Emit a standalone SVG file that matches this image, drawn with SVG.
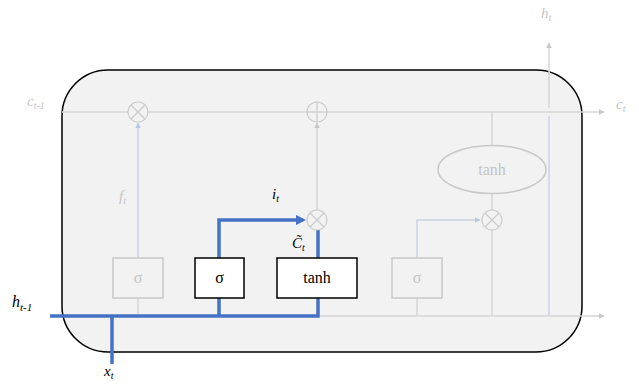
<svg xmlns="http://www.w3.org/2000/svg" width="639" height="384" viewBox="0 0 639 384">
  <style>
    text { font-family: "Liberation Serif", "Times New Roman", serif; }
    .lbl { font-style: italic; }
    .dim { fill: #c4c4c4; }
    .ink { fill: #000000; }
    .gate-dim { fill: none; stroke: #c8c8c8; stroke-width: 1.5; }
    .gate-on { fill: #ffffff; stroke: #000000; stroke-width: 1.5; }
    .gtxt { font-size: 16px; text-anchor: middle; }
    .grey { fill: none; stroke: #d6d6d6; stroke-width: 1.5; }
    .pale { fill: none; stroke: #c7d3e3; stroke-width: 1.5; }
    .blue { fill: none; stroke: #4472c4; stroke-width: 3.5; }
    .op { fill: #f2f2f2; stroke: #cccccc; stroke-width: 1.2; }
    .opx { stroke: #cccccc; stroke-width: 1.2; }
  </style>
  <defs>
    <marker id="ahGrey" viewBox="0 0 10 10" refX="9" refY="5" markerWidth="4" markerHeight="4" orient="auto">
      <path d="M0,0 L10,5 L0,10 z" fill="#c8c8c8"/>
    </marker>
    <marker id="ahPale" viewBox="0 0 10 10" refX="9" refY="5" markerWidth="4" markerHeight="4" orient="auto">
      <path d="M0,0 L10,5 L0,10 z" fill="#b8c8df"/>
    </marker>
    <marker id="ahBlue" viewBox="0 0 10 10" refX="7" refY="5" markerWidth="3" markerHeight="3" orient="auto">
      <path d="M0,0 L10,5 L0,10 z" fill="#4472c4"/>
    </marker>
  </defs>

  <!-- cell body -->
  <g id="cell">
    <rect x="62" y="70" width="520" height="282" rx="46" ry="46" fill="#f2f2f2" stroke="#000000" stroke-width="1.5"/>
  </g>

  <!-- connectors -->
  <g id="connectors">
    <!-- cell state c_{t-1} -> c_t -->
    <line class="grey" x1="62" y1="112" x2="604" y2="112" marker-end="url(#ahGrey)"/>
    <!-- forget gate output to multiply -->
    <line class="pale" x1="138" y1="258" x2="138" y2="123" marker-end="url(#ahPale)"/>
    <!-- candidate product to add -->
    <line class="grey" x1="317" y1="210" x2="317" y2="123" marker-end="url(#ahGrey)"/>
    <!-- hidden/input bus (dim part) -->
    <line class="grey" x1="318" y1="316" x2="604" y2="316" marker-end="url(#ahGrey)"/>
    <line class="grey" x1="138" y1="298" x2="138" y2="316"/>
    <line class="grey" x1="417" y1="298" x2="417" y2="316"/>
    <!-- output gate to multiply -->
    <polyline class="pale" points="417,258 417,220 480,220" marker-end="url(#ahPale)"/>
    <!-- cell state to tanh -->
    <line class="grey" x1="492" y1="112" x2="492" y2="146"/>
    <line class="grey" x1="492" y1="193" x2="492" y2="210"/>
    <!-- output product down to bus -->
    <line class="grey" x1="492" y1="230" x2="492" y2="316"/>
    <!-- h_t output -->
    <line class="pale" x1="549" y1="316" x2="549" y2="116"/>
    <line class="grey" x1="549" y1="108" x2="549" y2="43" marker-end="url(#ahGrey)"/>
    <!-- active path -->
    <polyline class="blue" points="50,316 318,316 318,298"/>
    <line class="blue" x1="112" y1="316" x2="112" y2="364"/>
    <line class="blue" x1="219" y1="316" x2="219" y2="298"/>
    <polyline class="blue" points="219,258 219,220 303,220" marker-end="url(#ahBlue)"/>
    <line class="blue" x1="318" y1="258" x2="318" y2="230"/>
  </g>

  <!-- pointwise operators -->
  <g id="mul-forget">
    <circle class="op" cx="138" cy="112" r="10"/>
    <line class="opx" x1="131" y1="105" x2="145" y2="119"/>
    <line class="opx" x1="145" y1="105" x2="131" y2="119"/>
  </g>
  <g id="add-cell">
    <circle class="op" cx="317" cy="112" r="10"/>
    <line class="opx" x1="307" y1="112" x2="327" y2="112"/>
    <line class="opx" x1="317" y1="102" x2="317" y2="122"/>
  </g>
  <g id="mul-input">
    <circle class="op" cx="317" cy="220" r="10"/>
    <line class="opx" x1="310" y1="213" x2="324" y2="227"/>
    <line class="opx" x1="324" y1="213" x2="310" y2="227"/>
  </g>
  <g id="mul-output">
    <circle class="op" cx="492" cy="220" r="10"/>
    <line class="opx" x1="485" y1="213" x2="499" y2="227"/>
    <line class="opx" x1="499" y1="213" x2="485" y2="227"/>
  </g>

  <!-- gates -->
  <g id="forget-gate">
    <rect class="gate-dim" x="113" y="258" width="50" height="40"/>
    <text class="gtxt dim" x="138" y="283">σ</text>
  </g>
  <g id="input-gate">
    <rect class="gate-on" x="195" y="258" width="49" height="40"/>
    <text class="gtxt ink" x="219.5" y="283">σ</text>
  </g>
  <g id="candidate">
    <rect class="gate-on" x="277" y="258" width="80" height="40"/>
    <text class="gtxt ink" x="317" y="283">tanh</text>
  </g>
  <g id="output-gate">
    <rect class="gate-dim" x="392" y="258" width="50" height="40"/>
    <text class="gtxt dim" x="417" y="283">σ</text>
  </g>
  <g id="cell-tanh">
    <ellipse cx="492" cy="169.5" rx="54" ry="24" fill="#f2f2f2" stroke="#c8c8c8" stroke-width="1.5"/>
    <text class="gtxt dim" x="492" y="175">tanh</text>
  </g>

  <!-- labels -->
  <g id="labels">
    <text class="lbl dim" x="27" y="106" font-size="15">c<tspan font-size="10" dy="3">t-1</tspan></text>
    <text class="lbl dim" x="616" y="109" font-size="15">c<tspan font-size="10" dy="3">t</tspan></text>
    <text class="lbl dim" x="541" y="18" font-size="15">h<tspan font-size="10" dy="3">t</tspan></text>
    <text class="lbl dim" x="119" y="201" font-size="15">f<tspan font-size="10" dy="3">t</tspan></text>
    <text class="lbl ink" x="12" y="307" font-size="16">h<tspan font-size="11" dy="4">t-1</tspan></text>
    <text class="lbl ink" x="104" y="376" font-size="15">x<tspan font-size="10" dy="3">t</tspan></text>
    <text class="lbl ink" x="272" y="199" font-size="15">i<tspan font-size="10" dy="3">t</tspan></text>
    <text class="lbl ink" x="292" y="248" font-size="15">C̃<tspan font-size="10" dy="3">t</tspan></text>
  </g>
</svg>
